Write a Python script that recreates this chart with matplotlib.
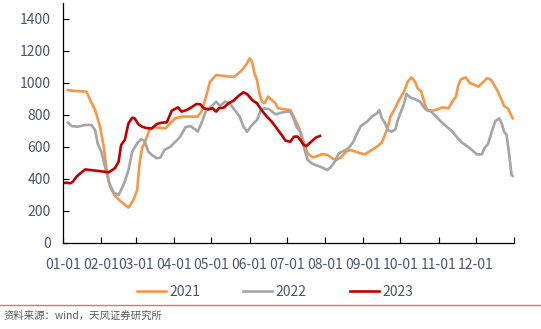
import matplotlib.pyplot as plt
from matplotlib.lines import Line2D

plt.rcParams['font.family'] = ['Noto Sans CJK SC', 'DejaVu Sans']

# day of year -> value
days_2021 = [4, 10, 19, 22, 26, 30, 33, 35, 38, 42, 47, 53, 57, 60, 62, 64, 66, 70, 74, 83,
             87, 91, 97, 109, 112, 115, 119, 124, 135, 139, 145, 149, 151, 153, 155, 157, 159, 161, 163, 166,
             169, 172, 174, 180, 184, 188, 190, 193, 196, 198, 202, 206, 210, 214, 218, 221, 225, 229, 233, 239,
             244, 250, 254, 258, 260, 263, 265, 268, 272, 276, 279, 282, 285, 287, 290, 293, 295, 299, 303, 307,
             312, 315, 318, 320, 322, 326, 329, 333, 336, 339, 343, 346, 349, 352, 355, 357, 360, 364]
vals_2021 = [956, 950, 946, 894, 831, 727, 602, 477, 352, 294, 258, 221, 269, 331, 500, 592, 625, 706, 723, 717,
             750, 780, 790, 790, 821, 894, 1008, 1050, 1040, 1040, 1081, 1123, 1154, 1133, 1060, 1019, 935, 883, 873, 915,
             894, 873, 842, 835, 831, 769, 738, 675, 602, 560, 535, 544, 556, 550, 529, 519, 535, 571, 581, 565,
             554, 581, 602, 627, 665, 727, 790, 831, 894, 946, 1008, 1035, 1008, 967, 946, 863, 831, 827, 835, 848,
             842, 883, 915, 988, 1023, 1035, 1002, 988, 977, 998, 1029, 1023, 988, 946, 894, 856, 842, 779]

days_2022 = [4, 7, 12, 18, 23, 26, 28, 31, 34, 37, 41, 45, 47, 50, 53, 56, 60, 63, 66, 69,
             72, 76, 79, 82, 87, 91, 95, 99, 103, 107, 109, 112, 116, 120, 124, 127, 131, 135, 139, 143,
             146, 149, 153, 157, 160, 163, 167, 172, 177, 181, 184, 186, 189, 192, 194, 196, 198, 202, 206, 210,
             214, 217, 220, 223, 227, 231, 235, 238, 241, 246, 250, 254, 256, 258, 260, 263, 266, 269, 271, 274,
             276, 278, 281, 285, 289, 292, 294, 298, 302, 306, 310, 315, 319, 323, 327, 331, 335, 339, 341, 344,
             347, 350, 353, 355, 357, 359, 361, 363, 364]
vals_2022 = [752, 731, 727, 738, 738, 706, 623, 571, 477, 383, 315, 300, 331, 383, 456, 571, 623, 648, 640, 571,
             550, 529, 535, 581, 602, 633, 665, 723, 731, 710, 696, 748, 831, 852, 883, 856, 883, 873, 831, 790,
             727, 696, 738, 769, 827, 842, 835, 804, 815, 821, 821, 790, 727, 696, 623, 571, 519, 494, 483, 471,
             456, 477, 508, 560, 575, 592, 633, 685, 731, 758, 790, 810, 831, 779, 758, 706, 696, 710, 769, 831,
             870, 931, 910, 898, 883, 848, 831, 821, 790, 758, 731, 696, 660, 627, 606, 581, 554, 554, 592, 619,
             696, 763, 779, 748, 696, 675, 560, 425, 419]

days_2023 = [1, 3, 6, 8, 11, 14, 18, 22, 29, 37, 39, 42, 45, 47, 50, 53, 56, 58, 61, 64,
             68, 72, 76, 80, 84, 86, 88, 93, 96, 100, 104, 108, 111, 114, 118, 121, 124, 126, 130, 134,
             138, 142, 146, 149, 153, 157, 161, 165, 169, 173, 177, 180, 184, 187, 190, 193, 195, 197, 200, 203,
             205, 208]
vals_2023 = [375, 377, 373, 383, 415, 435, 460, 456, 450, 442, 452, 467, 508, 612, 644, 748, 783, 779, 742, 727,
             717, 717, 744, 752, 754, 790, 827, 848, 821, 831, 848, 869, 867, 842, 835, 842, 821, 842, 846, 873,
             890, 919, 942, 931, 894, 873, 827, 790, 758, 717, 675, 640, 633, 665, 665, 633, 612, 606, 627, 648,
             660, 669]

month_days = [0, 31, 59, 90, 120, 151, 181, 212, 243, 273, 304, 334, 365]
month_labels = ['01-01', '02-01', '03-01', '04-01', '05-01', '06-01', '07-01',
                '08-01', '09-01', '10-01', '11-01', '12-01', '']

c21 = '#F79646'
c22 = '#A5A5A5'
c23 = '#C00000'
label_color = '#4a5670'

fig = plt.figure(figsize=(5.41, 3.29), dpi=100)
ax = fig.add_axes([63 / 541, 86 / 329, 451 / 541, 240 / 329])

ax.plot(days_2021, vals_2021, color=c21, lw=1.9, label='2021')
ax.plot(days_2022, vals_2022, color=c22, lw=1.9, label='2022')
ax.plot(days_2023, vals_2023, color=c23, lw=1.9, label='2023')

ax.set_xlim(0, 365)
ax.set_ylim(0, 1500)
ax.set_yticks(range(0, 1401, 200))
ax.set_xticks(month_days)
ax.set_xticklabels(month_labels)
ax.tick_params(axis='both', direction='in', length=4, width=0.8, colors='black',
               labelcolor=label_color, labelsize=10)
ax.tick_params(axis='y', pad=9)
ax.tick_params(axis='x', pad=11)
for s in ['top', 'right']:
    ax.spines[s].set_visible(False)
for s in ['left', 'bottom']:
    ax.spines[s].set_linewidth(0.9)

ax.legend(loc='center', bbox_to_anchor=(275 / 541, 1 - 292 / 329), bbox_transform=fig.transFigure,
          ncol=3, frameon=False, fontsize=10, handlelength=2.1, handletextpad=0.25,
          columnspacing=3.1, labelcolor=label_color)

fig.add_artist(Line2D([0, 1], [1 - 305 / 329, 1 - 305 / 329], transform=fig.transFigure,
                      color='#E97A2B', lw=1.0))
fig.text(4 / 541, 1 - 316 / 329, '资料来源：wind，天风证券研究所', fontsize=7.5,
         color='#595959', va='center', ha='left')

fig.savefig('out.png', dpi=100)
